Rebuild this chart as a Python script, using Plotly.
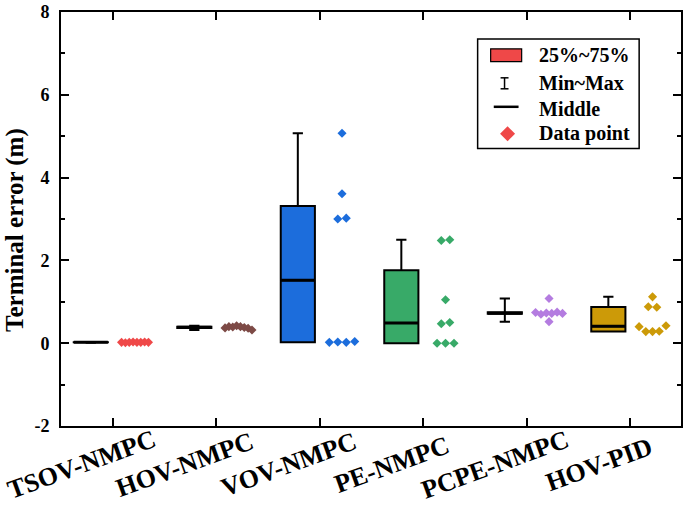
import numpy as np
import plotly.graph_objects as go

# ---------------- data ----------------
categories = ["TSOV-NMPC", "HOV-NMPC", "VOV-NMPC", "PE-NMPC", "PCPE-NMPC", "HOV-PID"]
tsov_nmpc = [0.02, 0.01, 0.02, 0.03, 0.02, 0.02, 0.03, 0.02]
hov_nmpc = [0.37, 0.40, 0.39, 0.42, 0.40, 0.38, 0.36, 0.32]
vov_nmpc = [5.07, 3.61, 3.00, 3.02, 0.02, 0.03, 0.02, 0.04]
pe_nmpc = [2.48, 2.50, 1.05, 0.47, 0.50, 0.00, 0.00, 0.00]
pcpe_nmpc = [1.08, 0.74, 0.70, 0.73, 0.72, 0.75, 0.72, 0.52]
hov_pid = [1.12, 0.88, 0.87, 0.40, 0.28, 0.28, 0.29, 0.42]
series = [tsov_nmpc, hov_nmpc, vov_nmpc, pe_nmpc, pcpe_nmpc, hov_pid]
y_ticks = [-2, 0, 2, 4, 6, 8]
y_tick_labels = ["-2", "0", "2", "4", "6", "8"]

# ---------------- style ----------------
colors = ["#EF4848", "#7D4A46", "#1C6DDC", "#38AA68", "#B47CE0", "#CC9A08"]
FONT = "Liberation Serif"
BOX_OFF = -0.212
PT_OFF = 0.215
BOX_W = 0.33
PX_X = 622 / 5.99  # px per x unit


def hinges(v):
    s = np.sort(np.asarray(v, float))
    n = len(s)
    lo = s[: n // 2]
    hi = s[(n + 1) // 2:]
    return np.median(lo), np.median(s), np.median(hi), s.min(), s.max()


def swarm(v, thresh=0.15, max_span=27.0, max_step=8.5):
    v = np.asarray(v, float)
    order = np.argsort(v, kind="stable")
    clusters = []
    for i in order:
        if clusters and v[i] - v[clusters[-1][0]] <= thresh:
            clusters[-1].append(i)
        else:
            clusters.append([i])
    off = np.zeros(len(v))
    for cl in clusters:
        cl = sorted(cl)
        n = len(cl)
        if n > 1:
            step = min(max_step, max_span / (n - 1))
            for k, i in enumerate(cl):
                off[i] = (k - (n - 1) / 2) * step / PX_X
    return off


fig = go.Figure()
for i, (vals, col) in enumerate(zip(series, colors)):
    q1, med, q3, mn, mx = hinges(vals)
    fig.add_trace(go.Box(
        x=[i + BOX_OFF], q1=[q1], median=[med], q3=[q3],
        lowerfence=[mn], upperfence=[mx], width=BOX_W, whiskerwidth=0.3,
        fillcolor=col, line=dict(color="black", width=2), showlegend=False,
        hoverinfo="skip"))
    fig.add_trace(go.Scatter(
        x=[i + BOX_OFF - BOX_W / 2, i + BOX_OFF + BOX_W / 2], y=[med, med],
        mode="lines", line=dict(color="black", width=3), showlegend=False,
        hoverinfo="skip"))
    fig.add_trace(go.Scatter(
        x=i + PT_OFF + swarm(vals), y=vals, mode="markers",
        marker=dict(symbol="diamond", size=7, color=col, line=dict(width=0)),
        showlegend=False))

axis_common = dict(showline=True, linecolor="black", linewidth=2, mirror="ticks",
                   ticks="inside", tickcolor="black", tickwidth=2, ticklen=8,
                   showgrid=False, zeroline=False)
fig.update_xaxes(range=[-0.5, 5.49], tickvals=list(range(len(categories))),
                 showticklabels=False, **axis_common)
fig.update_yaxes(range=[-2, 8], tickvals=y_ticks, ticktext=y_tick_labels, ticklabelstandoff=6,
                 tickfont=dict(family=FONT, size=18, color="black", weight="bold"),
                 minor=dict(ticks="inside", dtick=1, ticklen=4, tickwidth=2, tickcolor="black"),
                 **axis_common)

ann = []
for i, c in enumerate(categories):
    ann.append(dict(x=i, y=-0.094, xref="x", yref="paper", text=c, showarrow=False,
                    textangle=-20, xshift=-31, xanchor="center", yanchor="middle",
                    borderpad=0,
                    font=dict(family=FONT, size=26, color="black", weight="bold")))
ann.append(dict(x=-0.074, y=0.474, xref="paper", yref="paper", text="Terminal error (m)",
                showarrow=False, textangle=-90, xanchor="center", yanchor="middle",
                font=dict(family=FONT, size=25, color="black", weight="bold")))

# custom legend
leg_font = dict(family=FONT, size=20, color="black", weight="bold")
leg_items = [("25%~75%", 0.896), ("Min~Max", 0.829), ("Middle", 0.766), ("Data point", 0.706)]
for txt, yy in leg_items:
    ann.append(dict(x=0.7685, y=yy, xref="paper", yref="paper", text=txt, showarrow=False,
                    xanchor="left", yanchor="middle", font=leg_font))

shapes = [
    dict(type="rect", xref="paper", yref="paper", x0=0.672, x1=0.9325, y0=0.670, y1=0.935,
         line=dict(color="black", width=1.5), fillcolor="white", layer="below"),
    dict(type="rect", xref="paper", yref="paper", x0=0.693, x1=0.743, y0=0.880, y1=0.911,
         line=dict(color="black", width=1.2), fillcolor=colors[0]),
    dict(type="line", xref="paper", yref="paper", x0=0.7154, x1=0.7154, y0=0.8145, y1=0.841,
         line=dict(color="black", width=1.5)),
    dict(type="line", xref="paper", yref="paper", x0=0.709, x1=0.7218, y0=0.841, y1=0.841,
         line=dict(color="black", width=1.5)),
    dict(type="line", xref="paper", yref="paper", x0=0.709, x1=0.7218, y0=0.8145, y1=0.8145,
         line=dict(color="black", width=1.5)),
    dict(type="line", xref="paper", yref="paper", x0=0.698, x1=0.738, y0=0.771, y1=0.771,
         line=dict(color="black", width=2.5)),
]
cx, cy, dx, dy = 0.7203, 0.706, 0.0121, 0.0181
shapes.append(dict(type="path", xref="paper", yref="paper",
                   path=f"M {cx-dx} {cy} L {cx} {cy+dy} L {cx+dx} {cy} L {cx} {cy-dy} Z",
                   fillcolor=colors[0], line=dict(width=0)))

fig.update_layout(width=685, height=506, margin=dict(l=61, r=2, t=11, b=80),
                  paper_bgcolor="white", plot_bgcolor="white",
                  annotations=ann, shapes=shapes, showlegend=False)
fig.write_html("out.html", config={"displayModeBar": False},
               post_script="document.body.style.margin='0';document.body.style.overflow='hidden';")
